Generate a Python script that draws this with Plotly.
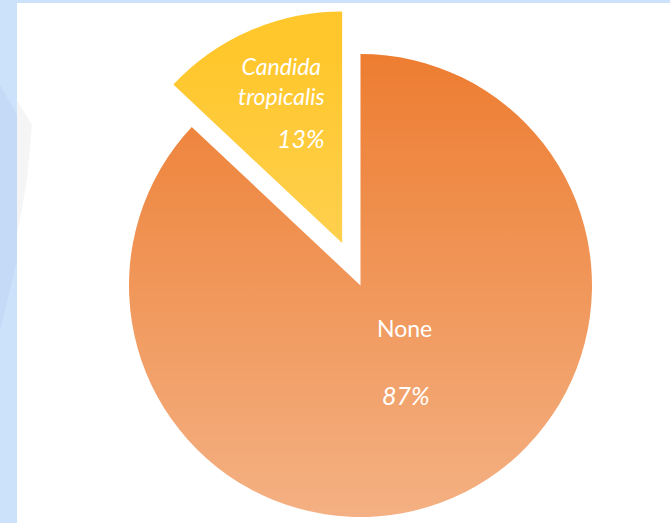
import math
import base64
import plotly.graph_objects as go

# ---- data ----
labels = ["None", "Candida tropicalis"]
values = [87, 13]
label_text = ["None", "Candida<br>tropicalis"]
pct_text = ["87%", "13%"]

W, H = 670, 523
# layout constants (pixels)
CX, CY, R = 360.5, 285.5, 231.5
PULL = 0.2

total = sum(values)
# slice bisector angles (math degrees), clockwise from 12 o'clock
mids = []
start = 90.0
for v in values:
    span = 360.0 * v / total
    mids.append(start - span / 2)
    start -= span


def px_to_paper(x, y):
    return x / W, 1 - y / H


def domain_for(cx, cy, r):
    return dict(x=[(cx - r) / W, (cx + r) / W], y=[(H - cy - r) / H, (H - cy + r) / H])


# pulled slice centre (Candida, index 1)
th = math.radians(mids[1])
pcx = CX + PULL * R * math.cos(th)
pcy = CY - PULL * R * math.sin(th)

orange = "#ED7D31"
yellow = "#FFC72C"
clear = "rgba(0,0,0,0)"

fig = go.Figure()
fig.add_trace(go.Pie(
    labels=labels, values=values, sort=False, direction="clockwise", rotation=0,
    marker=dict(colors=[orange, clear], line=dict(width=0)),
    textinfo="none", hoverinfo="skip", showlegend=False,
    domain=domain_for(CX, CY, R),
))
fig.add_trace(go.Pie(
    labels=labels, values=values, sort=False, direction="clockwise", rotation=0,
    marker=dict(colors=[clear, yellow], line=dict(width=0)),
    textinfo="none", hoverinfo="skip", showlegend=False,
    domain=domain_for(pcx, pcy, R),
))

# gradient overlay (white, transparent at top -> 40% at bottom)
svg = ('<svg xmlns="http://www.w3.org/2000/svg" width="100" height="100" viewBox="0 0 100 100" '
       'preserveAspectRatio="none"><defs><linearGradient id="g" x1="0" y1="0" x2="0" y2="1">'
       '<stop offset="0" stop-color="#ffffff" stop-opacity="0"/>'
       '<stop offset="1" stop-color="#ffffff" stop-opacity="0.4"/></linearGradient></defs>'
       '<rect x="0" y="0" width="100" height="100" fill="url(#g)"/></svg>')
src = "data:image/svg+xml;base64," + base64.b64encode(svg.encode()).decode()
gx0, gy0 = px_to_paper(CX - R - 60, CY - R)
gx1, gy1 = px_to_paper(CX + R + 2, CY + R + 2)
fig.add_layout_image(dict(source=src, xref="paper", yref="paper", x=gx0, y=gy0,
                          sizex=gx1 - gx0, sizey=gy0 - gy1, xanchor="left", yanchor="top",
                          sizing="stretch", layer="above", opacity=1))

font_face = "Lato, Calibri, Carlito, sans-serif"
# Candida tropicalis (pulled slice) label along its bisector
lx = pcx + 0.66 * R * math.cos(th)
ly = pcy - 0.66 * R * math.sin(th)
ax, ay = px_to_paper(lx, ly - 22)
fig.add_annotation(x=ax, y=ay, xref="paper", yref="paper", text="<i>" + label_text[1] + "</i>",
                   showarrow=False, font=dict(family=font_face, size=23, color="white"),
                   xanchor="center", yanchor="middle", align="center")
ax, ay = px_to_paper(lx + 20, ly + 35)
fig.add_annotation(x=ax, y=ay, xref="paper", yref="paper", text="<i>" + pct_text[1] + "</i>",
                   showarrow=False, font=dict(family=font_face, size=25, color="white"),
                   xanchor="center", yanchor="middle")
# None label
th2 = math.radians(mids[0])
nx = CX + 0.41 * R * math.cos(th2) + 6
ny = CY - 0.41 * R * math.sin(th2)
ax, ay = px_to_paper(nx, ny - 45)
fig.add_annotation(x=ax, y=ay, xref="paper", yref="paper", text=label_text[0],
                   showarrow=False, font=dict(family=font_face, size=23, color="white"),
                   xanchor="center", yanchor="middle")
ax, ay = px_to_paper(nx + 2, ny + 22)
fig.add_annotation(x=ax, y=ay, xref="paper", yref="paper", text="<i>" + pct_text[0] + "</i>",
                   showarrow=False, font=dict(family=font_face, size=25, color="white"),
                   xanchor="center", yanchor="middle")

# background: blue frame with white panel and faint decoration
shapes = [
    dict(type="rect", xref="paper", yref="paper", x0=17 / W, x1=1, y0=0, y1=1 - 3 / H,
         fillcolor="white", line=dict(width=0), layer="below"),
    dict(type="path", xref="paper", yref="paper", layer="below",
         path=f"M {17/W} {1-100/H} L {32/W} {1-125/H} L {27/W} {1-180/H} L {17/W} {1-235/H} Z",
         fillcolor="rgba(225,225,225,0.35)", line=dict(width=0)),
    dict(type="path", xref="paper", yref="paper", layer="below",
         path=f"M 0 {1-85/H} L {17/W} {1-115/H} L {17/W} {1-260/H} L 0 {1-330/H} Z",
         fillcolor="rgba(170,200,235,0.25)", line=dict(width=0)),
]

fig.update_layout(
    width=W, height=H, margin=dict(l=0, r=0, t=0, b=0),
    paper_bgcolor="#CCE1FA", plot_bgcolor="white",
    shapes=shapes,
)

fig.write_html("out.html")
